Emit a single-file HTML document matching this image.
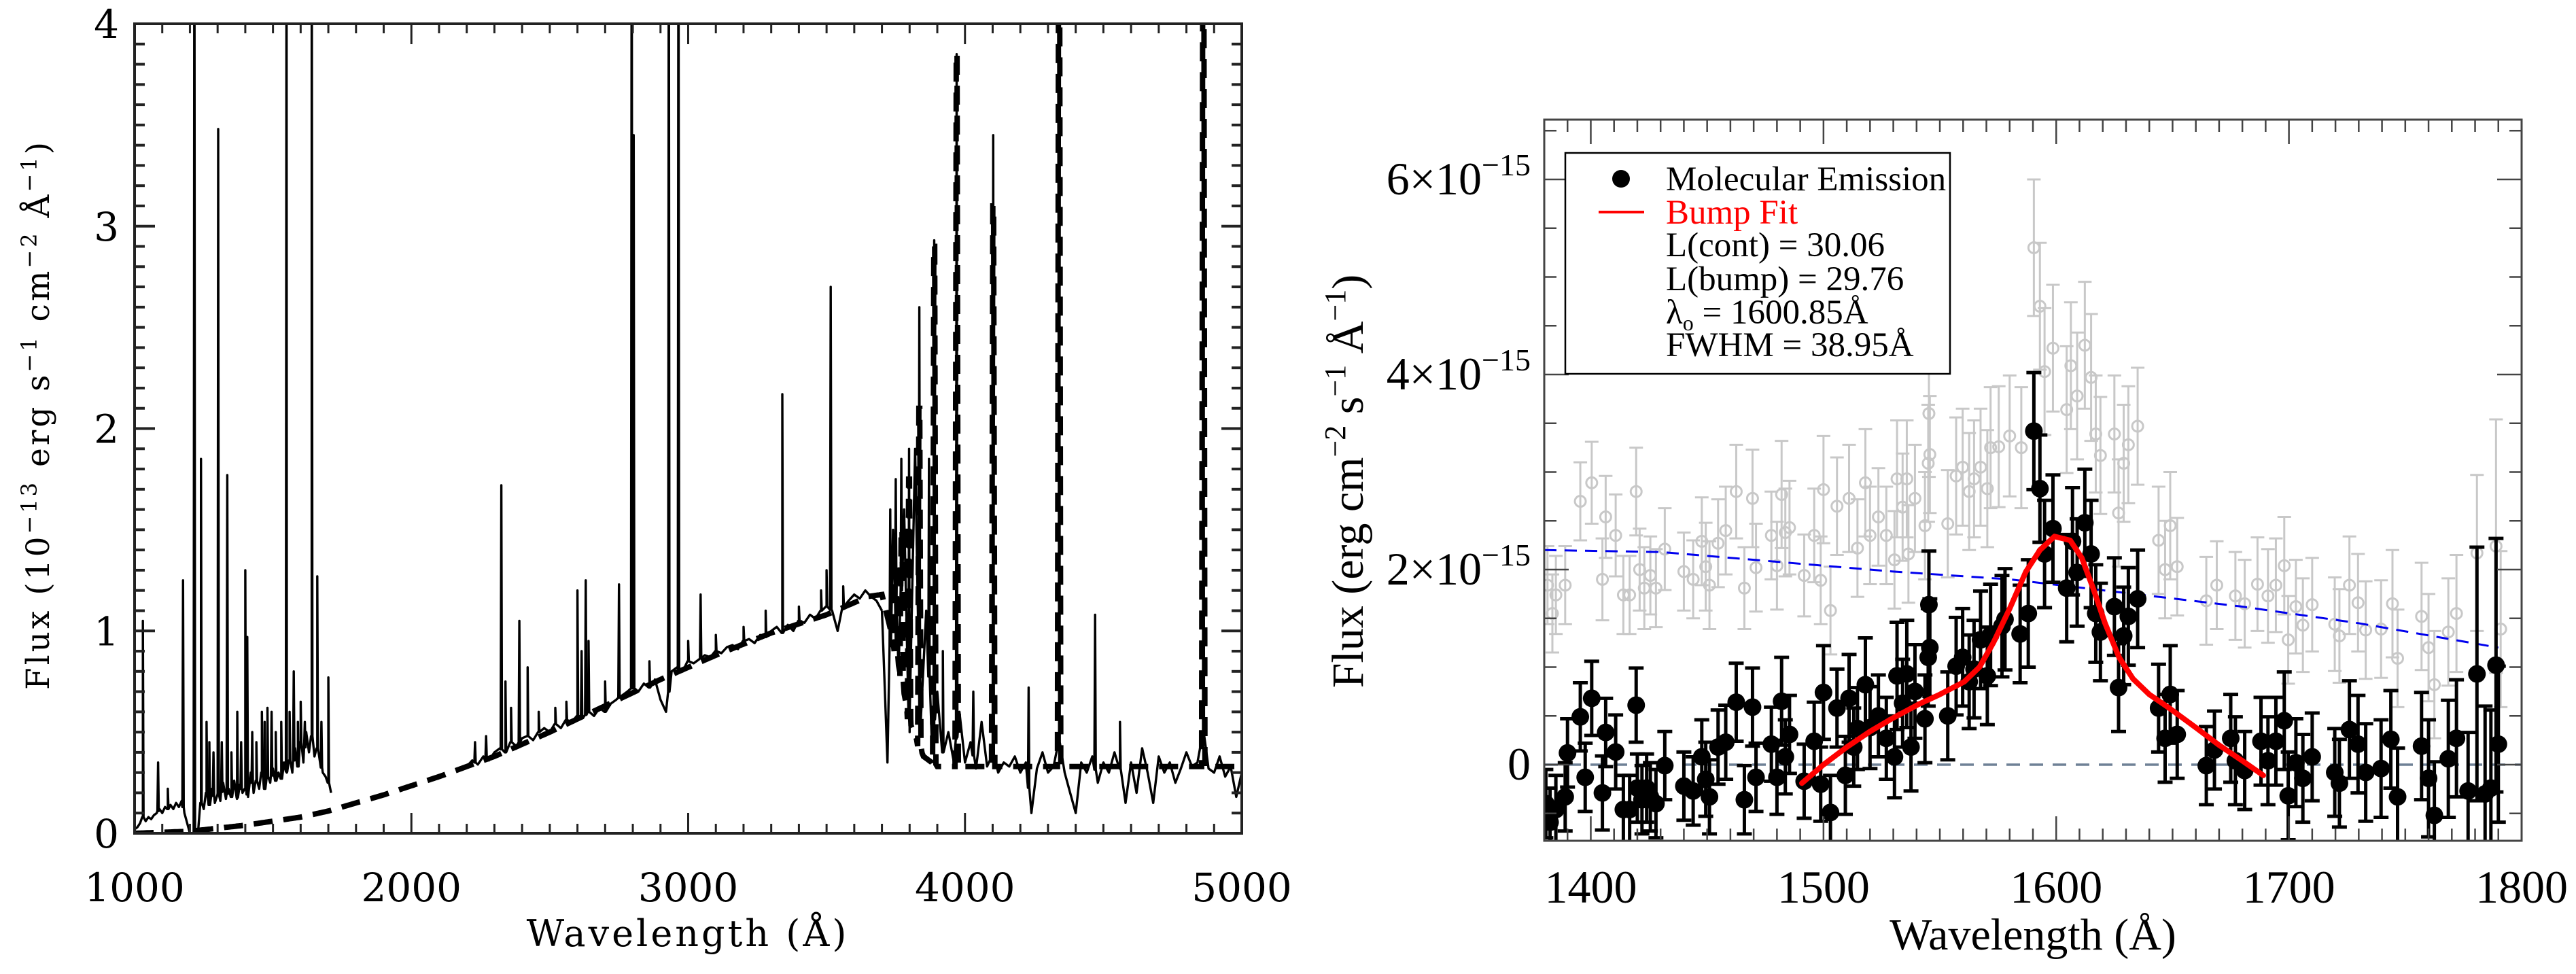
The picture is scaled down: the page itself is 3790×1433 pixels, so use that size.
<!DOCTYPE html>
<html><head><meta charset="utf-8"><style>
html,body{margin:0;padding:0;background:#fff;}
svg{display:block;}
.hs{font-family:"DejaVu Serif","Liberation Serif",serif;}
.tr{font-family:"Liberation Serif",serif;}
</style></head><body>
<svg id="fig" width="3790" height="1433" viewBox="0 0 3790 1433" xmlns="http://www.w3.org/2000/svg">
<defs>
<clipPath id="clipL"><rect x="198" y="35" width="1629" height="1191"/></clipPath>
<clipPath id="clipR"><rect x="2272" y="176" width="1438" height="1061"/></clipPath>
</defs>
<g id="left"></g>
<g id="right"></g>
</svg>
<script>
// ---------- LEFT PANEL DATA ----------
const seg1Start = 1000, seg1Step = 10;
const seg1Flux = [0.02,0.03,0.05,0.08,0.06,0.08,0.07,0.09,0.1,0.12,0.1,0.13,0.12,0.14,0.12,0.15,0.13,0.16,0.1,0.05,0.0,0.0,0.0,0.02,0.15,0.12,0.2,0.14,0.22,0.15,0.2,0.16,0.25,0.17,0.22,0.18,0.26,0.17,0.24,0.2,0.22,0.18,0.3,0.2,0.26,0.22,0.3,0.22,0.28,0.25,0.32,0.26,0.3,0.27,0.35,0.3,0.36,0.3,0.42,0.33,0.45,0.35,0.5,0.4,0.48,0.38,0.42,0.35,0.3,0.28,0.25,0.2];
const seg1Lines = [[1030,1.05],[1085,0.35],[1120,0.22],[1175,1.25],[1216,5],[1240,1.85],[1260,0.55],[1270,0.45],[1285,0.4],[1302,3.48],[1315,0.45],[1335,1.77],[1350,0.4],[1371,0.6],[1385,0.45],[1400,1.3],[1407,0.97],[1425,0.5],[1440,0.45],[1460,0.6],[1470,0.55],[1480,0.62],[1495,0.6],[1510,0.5],[1530,0.55],[1549,5],[1560,0.6],[1575,0.8],[1590,0.55],[1600,0.65],[1615,0.55],[1640,5],[1660,1.27],[1675,0.55],[1700,0.77]];
const seg2Start = 2200, seg2Step = 20;
const seg2Flux = [0.33,0.36,0.34,0.38,0.36,0.40,0.42,0.40,0.45,0.43,0.47,0.48,0.46,0.50,0.52,0.50,0.54,0.52,0.56,0.55,0.58,0.57,0.60,0.58,0.62,0.60,0.64,0.66,0.68,0.70,0.72,0.70,0.74,0.72,0.76,0.66,0.60,0.80,0.82,0.80,0.85,0.84,0.86,0.88,0.87,0.90,0.89,0.92,0.93,0.91,0.95,0.96,0.94,0.98,0.97,1.0,1.02,0.99,1.03,1.0,1.05,1.04,1.08,1.06,1.1,1.12,1.1,1.0,1.12,1.15,1.18,1.16,1.2,1.17,1.15,1.1];
const seg2Lines = [[2230,0.45],[2270,0.48],[2325,1.72],[2340,0.75],[2360,0.62],[2390,1.05],[2420,0.82],[2460,0.6],[2520,0.62],[2560,0.65],[2600,1.2],[2615,0.9],[2630,1.25],[2640,0.95],[2700,0.75],[2750,1.23],[2796,5],[2803,3.45],[2860,0.85],[2930,5],[2965,5],[3000,0.95],[3045,1.18],[3100,0.98],[3200,1.02],[3280,1.1],[3340,2.17],[3400,1.12],[3480,1.2],[3500,1.3],[3515,2.7],[3560,1.22]];
const seg3Start = 3700, seg3Step = 20;
const seg3Flux = [1.1,0.35,1.5,0.8,1.6,0.5,1.9,0.55,1.1,0.45,0.7,0.4,0.5,0.35,0.6,0.35,0.45,0.32,0.55,0.33,0.4,0.3,0.35,0.33,0.38,0.3,0.35,0.1,0.32,0.4,0.3,0.33,0.45,0.3,0.2,0.1,0.35,0.3,0.38,0.25,0.35,0.3,0.4,0.32,0.15,0.35,0.2,0.42,0.3,0.15,0.38,0.3,0.35,0.25,0.32,0.4,0.33,0.35,0.5,0.32,0.3,0.38,0.28,0.33,0.18,0.3];
const seg3Lines = [[3730,1.6],[3750,1.75],[3770,1.85],[3798,1.9],[3835,2.6],[3870,1.85],[3889,2.93],[3920,0.9],[3970,3.85],[4030,0.7],[4102,3.45],[4230,0.72],[4340,5],[4470,1.08],[4560,0.55],[4861,5]];
const modelCont = [[1000,0],[1200,0.01],[1400,0.04],[1600,0.08],[1700,0.11],[1900,0.19],[2100,0.28],[2300,0.38],[2500,0.5],[2700,0.63],[2900,0.76],[3100,0.88],[3300,0.99],[3500,1.08],[3650,1.17],[3700,1.18],[3750,0.9],[3800,0.55],[3850,0.38],[3900,0.33],[5000,0.33]];
const modelLines = [[3750,1.3],[3771,1.5],[3798,1.75],[3835,2.1],[3889,2.9],[3970,3.85],[4102,3.1],[4340,5],[4861,5]];
const leftXTicks = [1000,2000,3000,4000,5000];
const leftYTicks = [0,1,2,3,4];

// ---------- RIGHT PANEL DATA (units 1e-15) ----------
const blackX = [1380.7,1382.5,1385,1389,1390,1395.5,1397.6,1400.4,1405,1406.4,1410.7,1414,1416.7,1419.5,1420,1422,1424,1425.6,1428,1431.8,1440,1444,1447.7,1449.4,1451,1454.7,1458,1462.5,1466,1469.5,1471,1477.6,1480,1482,1483.6,1485.4,1491.7,1496,1498.8,1500,1503,1505.8,1509.4,1511,1513,1514.6,1518,1520,1523.6,1527,1530.5,1531.6,1534,1535.8,1537.6,1539.3,1543.6,1545.3,1545.7,1545,1553.4,1557,1559.8,1562.6,1564.7,1567.5,1570.4,1571.8,1576.7,1578,1584.5,1588,1590.4,1593,1595,1598.6,1604.5,1607,1609,1612.3,1615,1617,1619,1625,1626.8,1629,1631,1635,1644,1646.8,1649,1652,1664.5,1668,1675,1677,1681,1688,1691,1694.4,1698,1699.7,1703,1706,1710,1719.7,1721.7,1726,1729.7,1733,1739.6,1743.8,1746.7,1757,1760,1762.5,1768.5,1772,1777,1780.8,1784.3,1786.8,1789,1790];
const blackY = [-0.40,-0.59,-0.46,-0.33,0.12,0.49,-0.13,0.68,-0.29,0.33,0.13,-0.46,-0.46,0.61,-0.24,-0.36,-0.24,-0.33,-0.40,-0.01,-0.22,-0.27,0.08,-0.15,-0.33,0.18,0.23,0.64,-0.36,0.59,-0.13,0.21,-0.13,0.65,0.08,0.31,-0.17,0.24,-0.20,0.74,-0.49,0.58,-0.11,0.68,0.18,0.37,0.82,0.38,0.50,0.27,0.08,0.91,0.63,0.93,0.18,0.75,0.47,1.64,1.20,1.10,0.50,1.01,1.10,0.85,0.98,1.28,0.91,1.33,1.42,1.49,1.34,1.55,3.42,2.83,2.16,2.42,1.81,2.29,1.97,2.48,2.16,1.55,1.36,1.62,0.79,1.32,1.52,1.70,0.58,0.27,0.72,0.31,-0.01,0.15,0.27,0.04,-0.06,0.24,0.04,0.24,0.45,-0.32,0.02,-0.14,0.08,-0.08,-0.19,0.36,0.21,-0.08,-0.04,0.26,-0.33,0.19,-0.14,-0.52,0.06,0.27,-0.27,0.93,-0.30,-0.24,1.02,0.21];
const blackErr = [0.35,0.35,0.35,0.35,0.35,0.35,0.35,0.38,0.38,0.35,0.38,0.35,0.35,0.38,0.35,0.35,0.35,0.35,0.35,0.35,0.35,0.35,0.38,0.38,0.38,0.38,0.38,0.40,0.35,0.40,0.35,0.38,0.38,0.45,0.38,0.40,0.38,0.40,0.38,0.48,0.38,0.40,0.40,0.45,0.40,0.42,0.48,0.42,0.42,0.42,0.42,0.55,0.45,0.55,0.45,0.48,0.45,0.55,0.50,0.50,0.45,0.50,0.50,0.48,0.50,0.50,0.50,0.52,0.52,0.52,0.50,0.55,0.60,0.55,0.55,0.55,0.55,0.55,0.55,0.55,0.55,0.50,0.50,0.50,0.45,0.50,0.50,0.50,0.45,0.45,0.50,0.45,0.40,0.40,0.45,0.45,0.40,0.45,0.45,0.45,0.50,0.45,0.45,0.45,0.45,0.45,0.45,0.50,0.50,0.50,0.50,0.50,0.50,0.55,0.60,0.55,0.60,0.60,0.60,1.30,0.90,0.80,1.30,0.80];
const grayX = [1381.4,1383.5,1385,1389,1395.5,1400.4,1405,1406.4,1410.7,1414,1416.7,1419.5,1421,1423,1425.6,1428,1431.8,1440,1444,1447.7,1449.4,1451,1454.7,1458,1462.5,1466,1469.5,1471,1477.6,1480,1482,1483.6,1485.4,1491.7,1496,1498.8,1500,1503,1505.8,1511,1514.6,1518,1520,1523.6,1527,1530.5,1531.6,1534,1535.8,1536.5,1539.3,1543.6,1545.3,1545.7,1545,1553.4,1557,1559.8,1562.6,1564.7,1567.5,1570.4,1571.8,1575.3,1580,1585,1590.4,1593,1595,1598.6,1604.5,1606.3,1609,1612.3,1615,1617,1619,1625,1626.8,1629,1631,1635,1644,1646.8,1649,1652,1664.5,1669,1677,1681,1686.5,1691,1694.4,1698,1699.7,1703,1706,1710,1719.7,1721.7,1726,1729.7,1733,1739.6,1744.5,1746.7,1757,1760,1762.5,1768.5,1772,1780.8,1789,1791];
const grayY = [1.84,1.55,1.74,1.84,2.70,2.89,1.90,2.54,2.35,1.74,1.74,2.80,2.00,1.81,1.94,1.81,2.21,1.98,1.90,2.29,2.03,1.84,2.27,2.40,2.80,1.81,2.73,2.02,2.35,2.04,2.77,2.38,2.43,1.94,2.35,1.89,2.82,1.58,2.65,2.73,2.22,2.89,2.35,2.54,2.35,2.10,2.93,2.64,2.93,2.16,2.73,2.45,3.60,3.18,3.09,2.47,2.96,3.05,2.80,2.93,3.05,2.83,3.25,3.26,3.37,3.25,5.30,4.70,4.03,4.27,3.64,4.09,3.78,4.30,3.97,3.39,3.17,3.39,2.58,3.09,3.28,3.47,2.30,2.00,2.45,2.03,1.68,1.84,1.73,1.65,1.85,1.73,1.84,2.04,1.28,1.62,1.43,1.64,1.44,1.32,1.84,1.66,1.38,1.39,1.65,1.09,1.52,1.20,0.82,1.36,1.55,2.17,2.24,1.39];
const grayErr = [0.40,0.40,0.40,0.40,0.40,0.42,0.42,0.42,0.42,0.40,0.40,0.45,0.42,0.42,0.40,0.40,0.42,0.40,0.40,0.45,0.45,0.45,0.45,0.45,0.48,0.42,0.50,0.45,0.45,0.45,0.55,0.45,0.48,0.42,0.48,0.45,0.55,0.45,0.50,0.55,0.50,0.55,0.50,0.50,0.50,0.50,0.60,0.55,0.60,0.50,0.55,0.55,0.65,0.60,0.60,0.55,0.60,0.60,0.60,0.60,0.60,0.60,0.62,0.62,0.62,0.62,0.70,0.65,0.65,0.65,0.65,0.65,0.65,0.65,0.65,0.60,0.60,0.60,0.55,0.60,0.60,0.60,0.55,0.50,0.55,0.50,0.45,0.45,0.45,0.45,0.48,0.48,0.48,0.50,0.45,0.48,0.48,0.48,0.48,0.48,0.50,0.50,0.50,0.50,0.55,0.50,0.55,0.55,0.55,0.55,0.60,0.80,1.30,0.80];
const contX = [1380,1430,1480,1530,1580,1630,1680,1730,1790];
const contY = [2.20,2.18,2.08,1.98,1.90,1.76,1.62,1.45,1.20];
const fitX = [1490.7,1500,1510,1520,1530,1541,1550,1560.5,1567,1573,1580,1587,1593,1599.3,1606,1611,1616,1621,1627,1633,1640,1648.6,1660,1670,1680,1689];
const fitY = [-0.19,0.0,0.18,0.34,0.48,0.62,0.72,0.85,1.0,1.25,1.6,1.98,2.2,2.34,2.3,2.12,1.8,1.45,1.1,0.88,0.72,0.58,0.38,0.2,0.04,-0.11];
const rightXTicks = [1400,1500,1600,1700,1800];
const rightYTicks = [0,2,4,6];

const NS = "http://www.w3.org/2000/svg";
function mk(parent, tag, attrs) {
  const e = document.createElementNS(NS, tag);
  for (const k in attrs) e.setAttribute(k, attrs[k]);
  parent.appendChild(e);
  return e;
}

// ===== LEFT =====
const L = document.getElementById('left');
const lx = v => 198 + (v - 1000) * (1629 / 4000);
const ly = v => 1226 - v * (1191 / 4);

function buildSeg(start, step, flux, lines) {
  let pts = flux.map((f, i) => [start + i * step, f]);
  const end = start + (flux.length - 1) * step;
  const base = w => {
    for (let i = 0; i < pts.length - 1; i++) {
      if (w >= pts[i][0] && w <= pts[i + 1][0]) {
        const t = (w - pts[i][0]) / (pts[i + 1][0] - pts[i][0]);
        return pts[i][1] + t * (pts[i + 1][1] - pts[i][1]);
      }
    }
    return pts[pts.length - 1][1];
  };
  const extra = [];
  lines.forEach(([w, p]) => {
    if (w < start || w > end) return;
    const b = base(w);
    extra.push([w - 2.5, b], [w, p], [w + 2.5, b]);
  });
  return pts.concat(extra).sort((a, b) => a[0] - b[0]);
}
const lg = mk(L, 'g', {'clip-path': 'url(#clipL)'});



(function () {
  const cont = w => {
    for (let i = 0; i < modelCont.length - 1; i++) {
      if (w >= modelCont[i][0] && w <= modelCont[i + 1][0]) {
        const t = (w - modelCont[i][0]) / (modelCont[i + 1][0] - modelCont[i][0]);
        return modelCont[i][1] + t * (modelCont[i + 1][1] - modelCont[i][1]);
      }
    }
    return 0;
  };
  let pts = [];
  for (let w = 1000; w <= 5000; w += 5) {
    if (!modelLines.some(([lw]) => Math.abs(w - lw) < 6)) pts.push([w, cont(w)]);
  }
  modelLines.forEach(([w, p]) => { const b = cont(w); pts.push([w - 6, b], [w - 1.5, p], [w + 1.5, p], [w + 6, b]); });
  pts.sort((a, b) => a[0] - b[0]);
  const m = mk(lg, 'polyline', {points: pts.map(p => lx(p[0]).toFixed(1) + ',' + ly(p[1]).toFixed(1)).join(' '), fill: 'none', stroke: '#000', 'stroke-width': 8, 'stroke-dasharray': '28,16'});
  
  
})();

[[seg1Start, seg1Step, seg1Flux, seg1Lines, 'observed-spectrum-uv'],
 [seg2Start, seg2Step, seg2Flux, seg2Lines, 'observed-spectrum-nuv'],
 [seg3Start, seg3Step, seg3Flux, seg3Lines, 'observed-spectrum-optical']].forEach(s => {
  const pts = buildSeg(s[0], s[1], s[2], s[3]);
  const pl = mk(lg, 'polyline', {points: pts.map(p => lx(p[0]).toFixed(1) + ',' + ly(p[1]).toFixed(1)).join(' '), fill: 'none', stroke: '#000', 'stroke-width': 3.4, 'stroke-linejoin': 'round'});
  
  
});

const lf = mk(L, 'rect', {x: 198, y: 35, width: 1629, height: 1191, fill: 'none', stroke: '#222', 'stroke-width': 4});


for (let w = 1000; w <= 5000; w += 100) {
  const big = w % 1000 === 0, len = big ? 30 : 14;
  mk(L, 'line', {x1: lx(w), x2: lx(w), y1: 1226, y2: 1226 - len, stroke: '#222', 'stroke-width': 3});
  mk(L, 'line', {x1: lx(w), x2: lx(w), y1: 35, y2: 35 + len, stroke: '#222', 'stroke-width': 3});
}
for (let k = 0; k <= 40; k++) {
  const v = k / 10, big = k % 10 === 0, len = big ? 30 : 15;
  mk(L, 'line', {x1: 198, x2: 198 + len, y1: ly(v), y2: ly(v), stroke: '#222', 'stroke-width': 4});
  mk(L, 'line', {x1: 1827, x2: 1827 - len, y1: ly(v), y2: ly(v), stroke: '#222', 'stroke-width': 4});
}
leftXTicks.forEach(v => {
  const t = mk(L, 'text', {x: lx(v), y: 1326, 'text-anchor': 'middle', 'font-size': 58, class: 'hs'});
  t.textContent = v;
  
  
});
leftYTicks.forEach(v => {
  const t = mk(L, 'text', {x: 175, y: ly(v) + 21, 'text-anchor': 'end', 'font-size': 58, class: 'hs'});
  t.textContent = v;
  
  
});
(function () {
  const t = mk(L, 'text', {x: 1012, y: 1392, 'text-anchor': 'middle', 'font-size': 54, class: 'hs', 'letter-spacing': 4});
  t.textContent = 'Wavelength (Å)';
  
  
  const y = mk(L, 'text', {x: 0, y: 0, 'text-anchor': 'middle', 'font-size': 47, class: 'hs', 'letter-spacing': 4, transform: 'translate(72,610) rotate(-90)'});
  y.innerHTML = 'Flux (10<tspan dy="-18" font-size="32">−13</tspan><tspan dy="18"> erg s</tspan><tspan dy="-18" font-size="32">−1</tspan><tspan dy="18"> cm</tspan><tspan dy="-18" font-size="32">−2</tspan><tspan dy="18"> Å</tspan><tspan dy="-18" font-size="32">−1</tspan><tspan dy="18">)</tspan>';
  
  
})();

// ===== RIGHT =====
const R = document.getElementById('right');
const rx = v => 2272 + (v - 1380) * (1438 / 420);
const ry = v => 1125 - v * 143.5;
const rg = mk(R, 'g', {'clip-path': 'url(#clipR)'});



grayX.forEach((x, i) => {
  const g = mk(rg, 'g', {stroke: '#c8c8c8', 'stroke-width': 3, fill: 'none'});
  
  
  const X = rx(x), Y = ry(grayY[i]), e = grayErr[i] * 143.5;
  mk(g, 'line', {x1: X, x2: X, y1: Y - e, y2: Y + e});
  mk(g, 'line', {x1: X - 10, x2: X + 10, y1: Y - e, y2: Y - e});
  mk(g, 'line', {x1: X - 10, x2: X + 10, y1: Y + e, y2: Y + e});
  mk(g, 'circle', {cx: X, cy: Y, r: 8, fill: 'none'});
});
(function () {
  const z = mk(rg, 'line', {x1: 2272, x2: 3710, y1: ry(0), y2: ry(0), stroke: '#6f8196', 'stroke-width': 3.5, 'stroke-dasharray': '20,14'});
  
  
  const c = mk(rg, 'polyline', {points: contX.map((x, i) => rx(x) + ',' + ry(contY[i])).join(' '), fill: 'none', stroke: '#0000ee', 'stroke-width': 3, 'stroke-dasharray': '18,12'});
  
  
})();
blackX.forEach((x, i) => {
  const g = mk(rg, 'g', {stroke: '#000', 'stroke-width': 5, fill: '#000'});
  
  
  const X = rx(x), Y = ry(blackY[i]), e = blackErr[i] * 143.5;
  mk(g, 'line', {x1: X, x2: X, y1: Y - e, y2: Y + e});
  mk(g, 'line', {x1: X - 11, x2: X + 11, y1: Y - e, y2: Y - e});
  mk(g, 'line', {x1: X - 11, x2: X + 11, y1: Y + e, y2: Y + e});
  mk(g, 'circle', {cx: X, cy: Y, r: 13, stroke: 'none'});
});
(function () {
  const f = mk(rg, 'polyline', {points: fitX.map((x, i) => rx(x).toFixed(1) + ',' + ry(fitY[i]).toFixed(1)).join(' '), fill: 'none', stroke: '#ff0000', 'stroke-width': 8, 'stroke-linejoin': 'round', 'stroke-linecap': 'round'});
  
  
})();
const rf = mk(R, 'rect', {x: 2272, y: 176, width: 1438, height: 1061, fill: 'none', stroke: '#444', 'stroke-width': 3});


for (let w = 1390; w <= 1800; w += 10) {
  const big = w % 100 === 0, len = big ? 36 : 18;
  mk(R, 'line', {x1: rx(w), x2: rx(w), y1: 1237, y2: 1237 - len, stroke: '#444', 'stroke-width': 2.5});
  mk(R, 'line', {x1: rx(w), x2: rx(w), y1: 176, y2: 176 + len, stroke: '#444', 'stroke-width': 2.5});
}
for (let k = -1; k <= 13; k++) {
  const v = k * 0.5, big = k % 4 === 0, len = big ? 36 : 18;
  if (ry(v) < 176 || ry(v) > 1237) continue;
  mk(R, 'line', {x1: 2272, x2: 2272 + len, y1: ry(v), y2: ry(v), stroke: '#444', 'stroke-width': 2.5});
  mk(R, 'line', {x1: 3710, x2: 3710 - len, y1: ry(v), y2: ry(v), stroke: '#444', 'stroke-width': 2.5});
}
rightXTicks.forEach(v => {
  const t = mk(R, 'text', {x: rx(v), y: 1328, 'text-anchor': 'middle', 'font-size': 68, class: 'tr'});
  t.textContent = v;
  
  
});
rightYTicks.forEach(v => {
  const t = mk(R, 'text', {x: 2252, y: ry(v) + 22, 'text-anchor': 'end', 'font-size': 68, class: 'tr'});
  if (v === 0) t.textContent = '0';
  else t.innerHTML = v + '×10<tspan dy="-28" font-size="46">−15</tspan>';
  
  
});
(function () {
  const t = mk(R, 'text', {x: 2991, y: 1397, 'text-anchor': 'middle', 'font-size': 66, class: 'tr'});
  t.textContent = 'Wavelength (Å)';
  
  
  const y = mk(R, 'text', {x: 0, y: 0, 'text-anchor': 'middle', 'font-size': 66, class: 'tr', transform: 'translate(2005,708) rotate(-90)'});
  y.innerHTML = 'Flux (erg cm<tspan dy="-26" font-size="44">−2</tspan><tspan dy="26"> s</tspan><tspan dy="-26" font-size="44">−1</tspan><tspan dy="26"> Å</tspan><tspan dy="-26" font-size="44">−1</tspan><tspan dy="26">)</tspan>';
  
  
})();
(function () {
  const g = mk(R, 'g', {});
  
  
  mk(g, 'rect', {x: 2303, y: 225, width: 566, height: 325, fill: '#fff', stroke: '#000', 'stroke-width': 2.5});
  const d = mk(g, 'circle', {cx: 2385, cy: 263, r: 13, fill: '#000'});
  
  
  const l = mk(g, 'line', {x1: 2352, x2: 2419, y1: 312, y2: 312, stroke: '#ff0000', 'stroke-width': 4});
  
  
  const rows = [['Molecular Emission', '#000', 'legend-entry-molecular'], ['Bump Fit', '#ff0000', 'legend-entry-bump-fit'], ['L(cont) = 30.06', '#000', 'legend-lcont'], ['L(bump) = 29.76', '#000', 'legend-lbump'], ['λ<tspan dy="10" font-size="32">o</tspan><tspan dy="-10"> = 1600.85Å</tspan>', '#000', 'legend-lambda0'], ['FWHM = 38.95Å', '#000', 'legend-fwhm']];
  const ys = [263, 312, 360, 410, 459, 507];
  rows.forEach((r, i) => {
    const t = mk(g, 'text', {x: 2451, y: ys[i] + 17, 'font-size': 51, fill: r[1], class: 'tr'});
    t.innerHTML = r[0];
    
    
  });
})();
</script>
</body></html>
